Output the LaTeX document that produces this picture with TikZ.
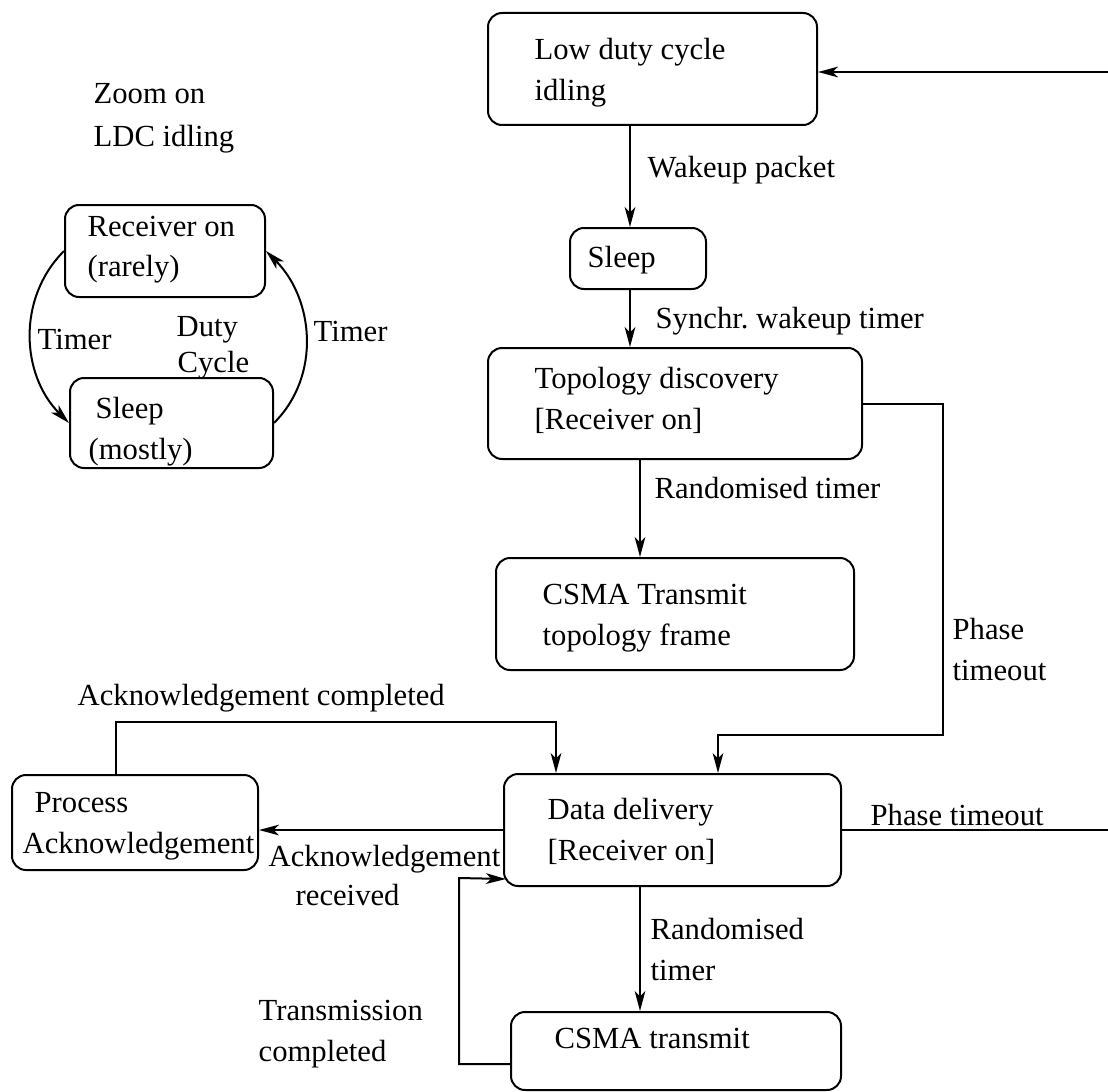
\documentclass[tikz,border=0pt]{standalone}
\usepackage{fontspec}
\setmainfont{Liberation Serif}
\usetikzlibrary{arrows.meta,fit,calc}
\newcommand{\mlines}[1]{\begin{tabular}[t]{@{}l@{}}#1\end{tabular}}
\begin{document}
\begin{tikzpicture}[x=0.3pt,y=0.3pt,
  box/.style={draw, rounded corners=4.2pt, line width=0.6pt, inner sep=0pt},
  lbl/.style={anchor=base west, inner sep=0pt, font=\fontsize{9.2}{12.3}\selectfont},
  ln/.style={line width=0.6pt},
  arr/.style={line width=0.6pt, -{Stealth[length=6pt,width=3.2pt,inset=1.6pt]}}]
\useasboundingbox (0,0) rectangle (1108,-1091);

% states of the main protocol
\node[box, fit={(488,-13)(817,-125)}]   (ldc)    {};
\node[box, fit={(570,-228)(706,-289)}]  (sleepA) {};
\node[box, fit={(488,-348)(862,-459)}]  (topo)   {};
\node[box, fit={(496,-558)(854,-670)}]  (tframe) {};
\node[box, fit={(504,-774)(841,-886)}]  (dd)     {};
\node[box, fit={(12,-775)(258,-870)}]   (proc)   {};
\node[box, fit={(511,-1012)(841,-1090)}] (csma)  {};

% states of the duty cycle
\node[box, fit={(65,-205)(265,-297)}]   (rxon)   {};
\node[box, fit={(70,-378)(273,-468)}]   (sleepB) {};

% texts inside the states
\node[lbl] (tldc)   at (534,-60)   {\mlines{Low duty cycle\\idling}};
\node[lbl] (tslA)   at (587,-268)  {Sleep};
\node[lbl] (ttopo)  at (534,-388)  {\mlines{Topology discovery\\{[Receiver on]}}};
\node[lbl] (tfr)    at (542,-604)  {\mlines{CSMA Transmit\\topology frame}};
\node[lbl] (tdd)    at (547,-819)  {\mlines{Data delivery\\{[Receiver on]}}};
\node[lbl] (tproc1) at (34,-812)   {Process};
\node[lbl] (tproc2) at (22,-853)   {Acknowledgement};
\node[lbl] (tcsma)  at (554,-1048) {CSMA transmit};
\node[lbl] (trx)    at (87,-236)   {\mlines{Receiver on\\(rarely)}};
\node[lbl] (tslB1)  at (95,-418)   {Sleep};
\node[lbl] (tslB2)  at (88,-459)   {(mostly)};

% free texts
\node[lbl] (zoom1)  at (93,-104)   {Zoom on};
\node[lbl] (zoom2)  at (93,-147)   {LDC idling};
\node[lbl] (duty)   at (176,-336)  {Duty};
\node[lbl] (cycle)  at (177,-372)  {Cycle};

% transition labels
\node[lbl] (lwake)  at (647,-177)  {Wakeup packet};
\node[lbl] (lsync)  at (655,-328)  {Synchr.\ wakeup timer};
\node[lbl] (lrand)  at (654,-498)  {Randomised timer};
\node[lbl] (lph)    at (952,-639)  {\mlines{Phase\\timeout}};
\node[lbl] (lack)   at (77,-705)   {Acknowledgement completed};
\node[lbl] (lphr)   at (870,-825)  {Phase timeout};
\node[lbl] (lrec1)  at (268,-866)  {Acknowledgement};
\node[lbl] (lrec2)  at (295,-905)  {received};
\node[lbl] (lrand2) at (650,-939)  {\mlines{Randomised\\timer}};
\node[lbl] (ltx)    at (258,-1020) {\mlines{Transmission\\completed}};
\node[lbl] (ltl)    at (37,-349)   {Timer};
\node[lbl] (ltr)    at (313,-341)  {Timer};

% columns and bend points of the connectors
\coordinate (colA) at (630,0);
\coordinate (colB) at (640,0);
\coordinate (phA)  at (943,-735);
\coordinate (phB)  at (718,-735);
\coordinate (akA)  at (116,-722);
\coordinate (akB)  at (556,-722);
\coordinate (tcA)  at (459,-1064);
\coordinate (tcB)  at (459,-878);
\coordinate (edgeA) at (1108,-72);
\coordinate (edgeB) at (1108,-833);

% main protocol transitions
\draw[arr] (edgeA) -- (ldc.east |- edgeA);
\draw[arr] (ldc.south -| colA) -- (sleepA.north -| colA);
\draw[arr] (sleepA.south -| colA) -- (topo.north -| colA);
\draw[arr] (topo.south -| colB) -- (tframe.north -| colB);
\draw[arr] (topo.east) -| (phA) -- (phB) -- (dd.north -| phB);
\draw[arr] (proc.north -| akA) -- (akA) -- (akB) -- (dd.north -| akB);
\draw[arr] (dd.west) -- (proc.east |- dd.west);
\draw[ln]  (dd.east) -- (edgeB |- dd.east);
\draw[arr] (dd.south -| colB) -- (csma.north -| colB);
\draw[arr] (csma.west |- tcA) -- (tcA) -- (tcB) -- ($(dd.south west)+(3,8)$);

% duty cycle transitions
\draw[arr] (rxon.west) to[out=225, in=135] (sleepB.west);
\draw[arr] (sleepB.east) to[out=45, in=-45] (rxon.east);
\end{tikzpicture}
\end{document}
